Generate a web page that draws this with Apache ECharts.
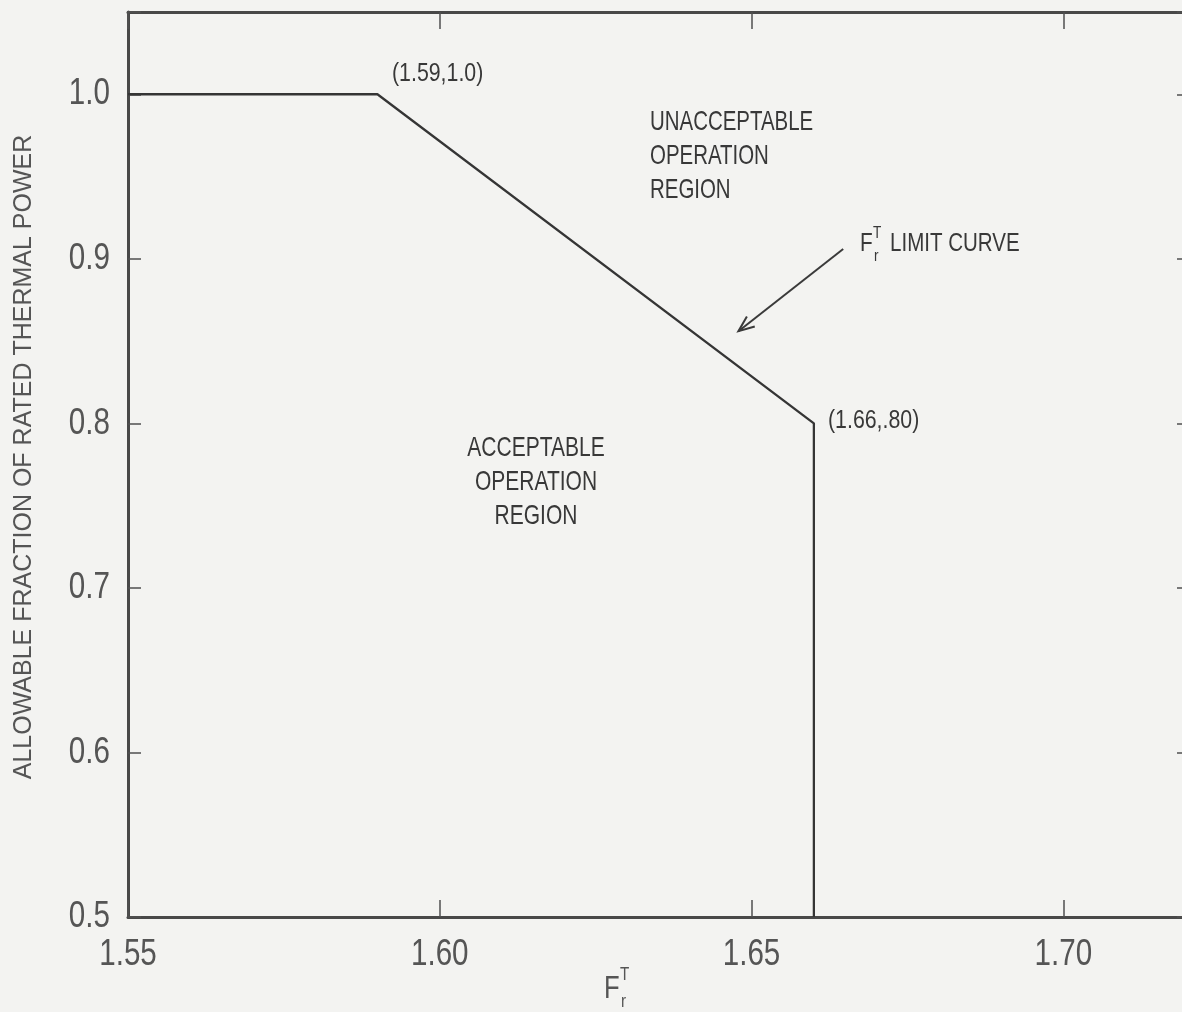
<!DOCTYPE html>
<html>
<head>
<meta charset="utf-8">
<script src="https://cdn.jsdelivr.net/npm/echarts@6/dist/echarts.min.js"></script>
<style>
  html, body { margin: 0; padding: 0; background: #f3f3f1; }
  #chart { width: 1182px; height: 1012px; }
</style>
</head>
<body>
<div id="chart"></div>
<script>
// ---- data ----
const limitX = [1.55, 1.59, 1.66, 1.66];
const limitY = [1.0, 1.0, 0.80, 0.50];
const xTickLabels = ['1.55', '1.60', '1.65', '1.70'];
const yTickLabels = ['0.5', '0.6', '0.7', '0.8', '0.9', '1.0'];
const yAxisTitle = 'ALLOWABLE FRACTION OF RATED THERMAL POWER';
const pointLabels = ['(1.59,1.0)', '(1.66,.80)'];
const regionUpper = ['UNACCEPTABLE', 'OPERATION', 'REGION'];
const regionLower = ['ACCEPTABLE', 'OPERATION', 'REGION'];
const arrowFrom = [1.6647, 0.906];
const arrowTo = [1.6479, 0.856];

const FONT = "'Liberation Sans', Arial, Helvetica, sans-serif";

const chart = echarts.init(document.getElementById('chart'), null, { renderer: 'canvas' });

const axisLineStyle = { color: '#484848', width: 3 };
const tickStyle = { color: '#505050', width: 1.5 };

chart.setOption({
  backgroundColor: '#f3f3f1',
  animation: false,
  grid: { left: 128, top: 12, bottom: 95, right: -6, containLabel: false, outerBoundsMode: 'none' },
  xAxis: [
    {
      type: 'value', min: 1.55, max: 1.72, interval: 0.05, position: 'bottom',
      axisLine: { show: true, lineStyle: axisLineStyle },
      axisTick: { show: true, inside: true, length: 17, lineStyle: tickStyle },
      axisLabel: { show: false },
      splitLine: { show: false }
    },
    {
      type: 'value', min: 1.55, max: 1.72, interval: 0.05, position: 'top',
      axisLine: { show: true, lineStyle: axisLineStyle },
      axisTick: { show: true, inside: true, length: 17, lineStyle: tickStyle },
      axisLabel: { show: false },
      splitLine: { show: false }
    }
  ],
  yAxis: [
    {
      type: 'value', min: 0.5, max: 1.05, interval: 0.1, position: 'left',
      axisLine: { show: true, lineStyle: axisLineStyle },
      axisTick: { show: true, inside: true, length: 13, lineStyle: tickStyle },
      axisLabel: { show: false },
      splitLine: { show: false }
    },
    {
      type: 'value', min: 0.5, max: 1.05, interval: 0.1, position: 'right',
      axisLine: { show: true, lineStyle: axisLineStyle },
      axisTick: { show: true, inside: true, length: 11, lineStyle: tickStyle },
      axisLabel: { show: false },
      splitLine: { show: false }
    }
  ],
  series: [
    {
      type: 'line',
      xAxisIndex: 0, yAxisIndex: 0,
      data: limitX.map((x, i) => [x, limitY[i]]),
      symbol: 'none',
      lineStyle: { color: '#353535', width: 2.3 },
      z: 3
    }
  ]
});

// ---- text & annotations, placed through the chart's own scales ----
const P = (pt) => chart.convertToPixel({ xAxisIndex: 0, yAxisIndex: 0 }, pt);
const origin = P([1.55, 0.5]);   // bottom-left corner of the plot

function txt(x, y, text, size, opt) {
  opt = opt || {};
  return {
    type: 'text', x: x, y: y, scaleX: opt.sx || 0.8, rotation: opt.rot || 0, z: 10,
    style: {
      text: text, font: size + 'px ' + FONT, fill: opt.fill || '#383838',
      textAlign: opt.align || 'left', textVerticalAlign: opt.valign || 'middle',
      lineHeight: opt.lh
    }
  };
}

const graphics = [];
// tick labels
xTickLabels.forEach(function (s) {
  const p = P([parseFloat(s), 0.5]);
  graphics.push(txt(p[0], origin[1] + 38, s, 37, { align: 'center', fill: '#555', sx: 0.8 }));
});
yTickLabels.forEach(function (s) {
  const p = P([1.55, parseFloat(s)]);
  graphics.push(txt(origin[0] - 18, p[1], s, 37, { align: 'right', fill: '#555', sx: 0.8 }));
});

// y axis title (rotated)
graphics.push(txt(24, 457, yAxisTitle, 25, { align: 'center', fill: '#555', sx: 1, rot: Math.PI / 2 }));

// point labels and region labels
graphics.push(txt(392, 74, pointLabels[0], 26, { sx: 0.82 }));
graphics.push(txt(828, 421, pointLabels[1], 26, { sx: 0.82 }));
graphics.push(txt(650, 105, regionUpper.join('\n'), 28, { valign: 'top', lh: 34, sx: 0.73 }));
graphics.push(txt(536, 431, regionLower.join('\n'), 28, { valign: 'top', lh: 34, sx: 0.75, align: 'center' }));

// F_r^T LIMIT CURVE
graphics.push(txt(860, 244, 'F', 26, { sx: 0.8 }));
graphics.push(txt(873, 233, 'T', 17, { sx: 0.8 }));
graphics.push(txt(874, 256, 'r', 17, { sx: 0.8 }));
graphics.push(txt(890, 244, 'LIMIT CURVE', 26, { sx: 0.79 }));

// x axis name F_r^T
graphics.push(txt(604, 989, 'F', 32, { fill: '#555', sx: 0.8 }));
graphics.push(txt(620, 975, 'T', 19, { fill: '#555', sx: 0.8 }));
graphics.push(txt(621, 1002, 'r', 19, { fill: '#555', sx: 0.8 }));

// arrow
const a0 = P(arrowFrom), a1 = P(arrowTo);
const dx = a0[0] - a1[0], dy = a0[1] - a1[1];
const len = Math.sqrt(dx * dx + dy * dy);
const ux = dx / len, uy = dy / len;
const headLen = 17, ang = 22 * Math.PI / 180;
function rot(x, y, a) { return [x * Math.cos(a) - y * Math.sin(a), x * Math.sin(a) + y * Math.cos(a)]; }
const h1 = rot(ux, uy, ang), h2 = rot(ux, uy, -ang);
graphics.push({ type: 'line', shape: { x1: a0[0], y1: a0[1], x2: a1[0], y2: a1[1] }, style: { stroke: '#3a3a3a', lineWidth: 2 } });
graphics.push({ type: 'polyline', shape: { points: [[a1[0] + h1[0] * headLen, a1[1] + h1[1] * headLen], [a1[0], a1[1]], [a1[0] + h2[0] * headLen, a1[1] + h2[1] * headLen]] }, style: { stroke: '#3a3a3a', lineWidth: 2, fill: null } });

chart.setOption({ graphic: graphics });
</script>
</body>
</html>
